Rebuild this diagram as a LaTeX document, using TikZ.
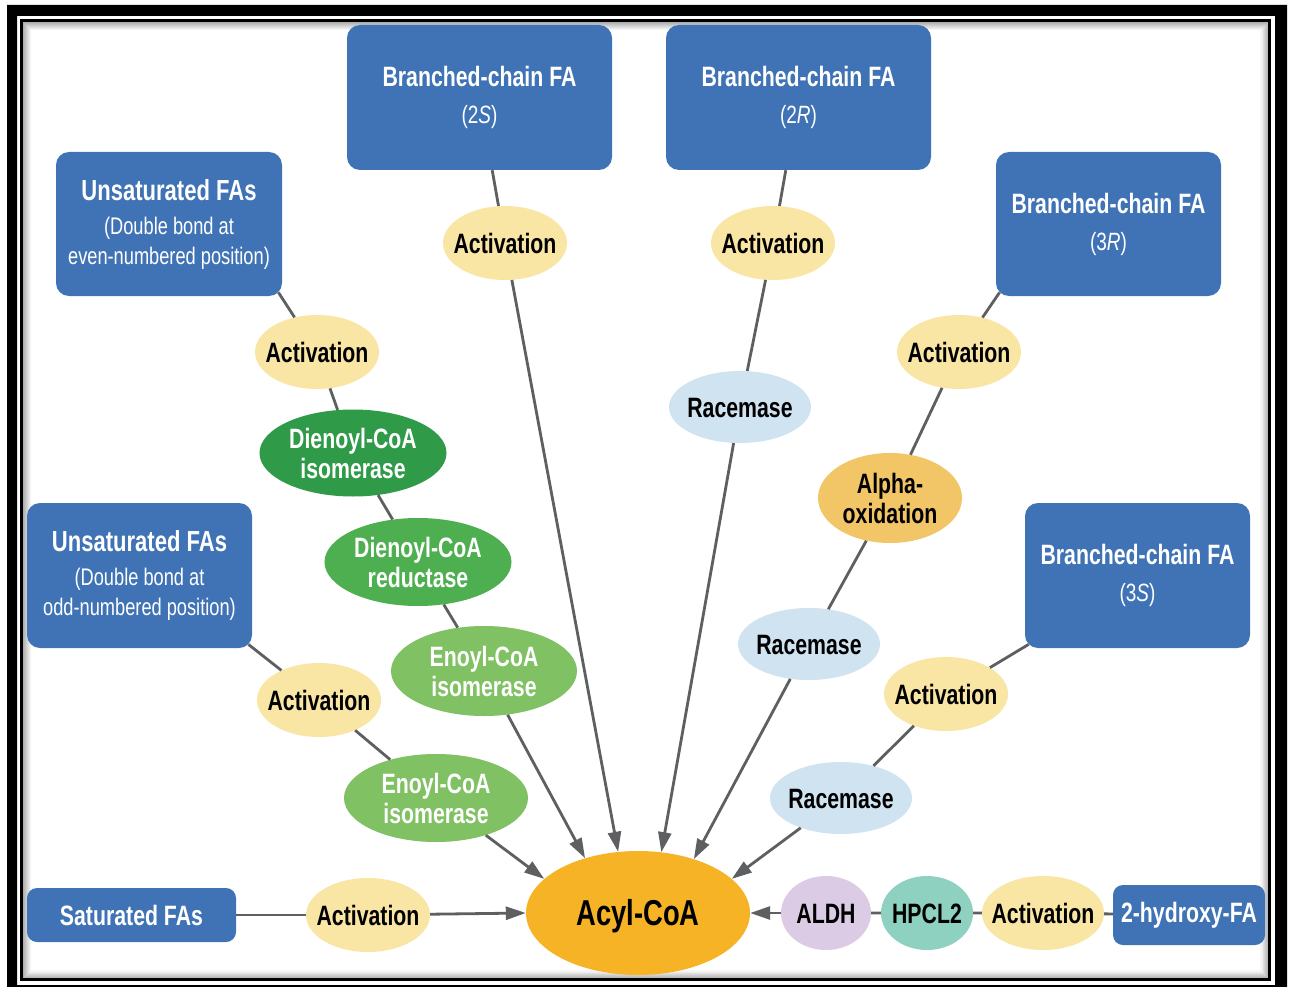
\documentclass[tikz,border=0pt]{standalone}
\usepackage{fontspec}
\setmainfont[FakeStretch=0.76]{Liberation Sans}
\usetikzlibrary{shapes.geometric,arrows.meta,calc}
\definecolor{boxblue}{HTML}{3F73B5}
\definecolor{actyel}{HTML}{F9E6A5}
\definecolor{dgreen}{HTML}{2F9A48}
\definecolor{mgreen}{HTML}{4EAF50}
\definecolor{lgreen}{HTML}{7FC163}
\definecolor{racblue}{HTML}{D0E3F1}
\definecolor{alphaor}{HTML}{F2C566}
\definecolor{acylor}{HTML}{F6B326}
\definecolor{aldhpur}{HTML}{DCCBE5}
\definecolor{hpclteal}{HTML}{8ED1C1}
\definecolor{linegray}{HTML}{5E5F61}
\newcommand\zwtext[1]{\makebox[0pt]{\begin{tabular}{@{}c@{}}#1\end{tabular}}}
\begin{document}
\begin{tikzpicture}[x=1pt,y=-1pt,
  fabox/.style n args={2}{rectangle, rounded corners=13pt, fill=boxblue, text=white,
    minimum width=#1pt, minimum height=#2pt, inner sep=0pt, align=center,
    font=\fontsize{28}{37}\selectfont\bfseries},
  enz/.style n args={3}{ellipse, fill=#1, minimum width=#2pt, minimum height=#3pt,
    inner sep=0pt, text height=26pt, text depth=4pt, font=\fontsize{28}{30}\selectfont\bfseries},
  act/.style={enz={actyel}{124}{74}},
  rac/.style={enz={racblue}{142}{72}},
  conn/.style={draw=linegray, line width=2.8pt},
  arr/.style={conn, -{Triangle[length=20pt,width=13pt]}},
  subtxt/.style={font=\fontsize{24}{30}\selectfont\bfseries}
]
\useasboundingbox (0,0) rectangle (1290,987);
\fill[white] (0,0) rectangle (1290,987);
% frame
\fill[black, even odd rule] (7,5) rectangle (1287,995) (17,16) rectangle (1275,985);
\foreach \i in {0,...,7}{
  \pgfmathsetmacro\sh{32-4*\i}
  \draw[black!\sh, line width=1.2pt] (23.5+\i,22.5+\i) rectangle (1268-\i,978-\i);
}
\draw[black, line width=3pt] (21.5,20.5) rectangle (1269.5,979.5);

% source boxes
\node[fabox={265}{145}] (b2s) at (479.5,97.5) {Branched-chain FA\\{\fontsize{25}{37}\selectfont\mdseries(2\textit{S})}};
\node[fabox={265}{145}] (b2r) at (798.5,97.5) {Branched-chain FA\\{\fontsize{25}{37}\selectfont\mdseries(2\textit{R})}};
\node[fabox={226}{144}, subtxt] (ue) at (169,224) {{\fontsize{29}{34}\selectfont Unsaturated FAs}\\[4pt]{\mdseries(Double bond at}\\{\mdseries even-numbered position)}};
\node[fabox={225}{144}] (b3r) at (1108.5,224) {Branched-chain FA\\{\fontsize{25}{37}\selectfont\mdseries(3\textit{R})}};
\node[fabox={225}{145}, subtxt] (uo) at (139.5,575.5) {{\fontsize{29}{34}\selectfont Unsaturated FAs}\\[4pt]{\mdseries(Double bond at}\\{\mdseries odd-numbered position)}};
\node[fabox={225}{145}] (b3s) at (1137.5,575.5) {Branched-chain FA\\{\fontsize{25}{37}\selectfont\mdseries(3\textit{S})}};
\node[fabox={209}{54}, rounded corners=10pt] (sat) at (131.5,915) {Saturated FAs};
\node[fabox={152}{60}, rounded corners=10pt] (hyd) at (1189,915) {2-hydroxy-FA};

% enzymes / steps
\node[act] (act1) at (505,243) {\zwtext{Activation}};
\node[act] (act2) at (773,243) {\zwtext{Activation}};
\node[act] (actue) at (317,352) {\zwtext{Activation}};
\node[act] (act3r) at (959,352) {\zwtext{Activation}};
\node[enz={dgreen}{187}{87}, text=white] (dci) at (353,453) {\zwtext{Dienoyl-CoA\\isomerase}};
\node[enz={mgreen}{187}{88}, text=white] (dcr) at (418,562) {\zwtext{Dienoyl-CoA\\reductase}};
\node[enz={lgreen}{186}{90}, text=white] (eciu) at (484,671) {\zwtext{Enoyl-CoA\\isomerase}};
\node[act] (actuo) at (319,700) {\zwtext{Activation}};
\node[enz={lgreen}{184}{88}, text=white] (ecil) at (436,798) {\zwtext{Enoyl-CoA\\isomerase}};
\node[rac] (rac1) at (740,407) {\zwtext{Racemase}};
\node[enz={alphaor}{144}{90}] (alpha) at (890,498) {\zwtext{Alpha-\\oxidation}};
\node[rac] (rac2) at (809,644) {\zwtext{Racemase}};
\node[act] (act3s) at (946,694) {\zwtext{Activation}};
\node[rac] (rac3) at (841,798) {\zwtext{Racemase}};
\node[enz={acylor}{224}{124}, font=\fontsize{36}{40}\selectfont\bfseries, text height=22pt, text depth=0pt] (acyl) at (638,913) {\zwtext{Acyl-CoA}};
\node[act] (actsat) at (368,915) {\zwtext{Activation}};
\node[enz={aldhpur}{90}{74}] (aldh) at (826,913) {\zwtext{ALDH}};
\node[enz={hpclteal}{92}{74}] (hpcl) at (927,913) {\zwtext{HPCL2}};
\node[enz={actyel}{122}{74}] (act2h) at (1043,913) {\zwtext{Activation}};

% free ends at box corners
\coordinate (ueC) at ($(ue.south east)+(-3.8,-3.8)$);
\coordinate (uoC) at ($(uo.south east)+(-3.8,-3.8)$);
\coordinate (b3rC) at ($(b3r.south west)+(3.8,-3.8)$);
\coordinate (b3sC) at ($(b3s.south west)+(3.8,-3.8)$);

% connectors
\draw[conn] (b2s) -- (act1);
\draw[arr] (act1) -- (acyl.108);
\draw[conn] (b2r) -- (act2) -- (rac1);
\draw[arr] (rac1) -- (acyl.69);
\draw[conn] (ueC) -- (actue) -- (dci) -- (dcr) -- (eciu);
\draw[arr] (eciu) -- (acyl.134);
\draw[conn] (uoC) -- (actuo) -- (ecil);
\draw[arr] (ecil) -- (acyl.160);
\draw[conn] (b3rC) -- (act3r) -- (alpha) -- (rac2);
\draw[arr] (rac2) -- (acyl.44);
\draw[conn] (b3sC) -- (act3s) -- (rac3);
\draw[arr] (rac3) -- (acyl.20);
\draw[conn] (sat) -- (actsat);
\draw[arr] (actsat) -- (acyl.180);
\draw[conn] (hyd) -- (act2h) -- (hpcl) -- (aldh);
\draw[arr] (aldh) -- (acyl.0);
\end{tikzpicture}
\end{document}
